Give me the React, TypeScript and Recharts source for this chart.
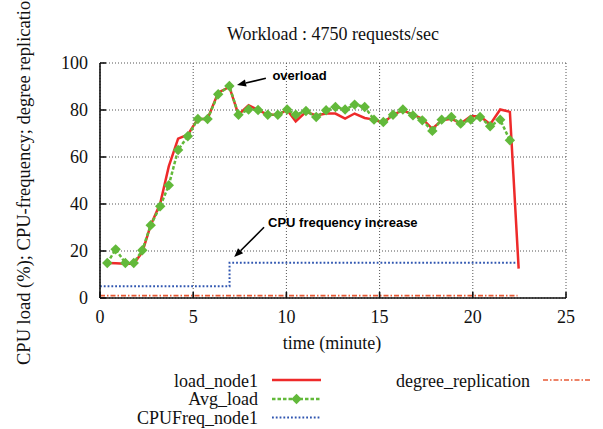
import React from 'react';
import { LineChart, Line, XAxis, YAxis, CartesianGrid, ReferenceLine, Customized } from 'recharts';

// ---- data ----
const TIME_MIN = [0.39, 0.84, 1.36, 1.81, 2.27, 2.72, 3.23, 3.69, 4.19, 4.71, 5.25, 5.77, 6.34, 6.94, 7.43, 7.97, 8.48, 9.0, 9.54, 10.04, 10.5, 11.05, 11.6, 12.13, 12.63, 13.15, 13.66, 14.2, 14.7, 15.2, 15.72, 16.25, 16.79, 17.29, 17.83, 18.33, 18.85, 19.35, 19.89, 20.39, 20.93, 21.47, 21.99, 22.46];
const LOAD_NODE1 = [14.9, 14.8, 14.6, 14.6, 19.5, 31, 40.2, 56, 67.8, 69.5, 76.2, 76.2, 87.4, 89.8, 78, 82, 80, 78, 78, 80, 75.2, 79.2, 77.7, 78.5, 78.5, 76.3, 78.5, 76.6, 75.9, 74.5, 78, 79.8, 78, 76.3, 72, 75.6, 76.3, 74.2, 77.3, 77.3, 73.9, 80.2, 79.2, 12.5];
const AVG_LOAD = [14.9, 20.7, 14.9, 14.9, 20.3, 31, 39, 48, 63, 68.8, 76.2, 76.2, 86.7, 90.2, 78, 80.2, 80, 78, 78, 80.2, 78, 79.6, 77, 79.9, 81.3, 80.2, 82.3, 81.3, 75.9, 74.9, 78, 80.2, 77.7, 75.6, 71.1, 75.9, 77, 74.2, 75.9, 77, 73.1, 75.9, 67.1];
const CPU_TIMES = [0, 6.95, 22.4];
const CPU_FREQ = [5, 15, 15];
const REPL_TIMES = [0, 22.4];
const REPL_DEGREE = [1, 1];
const X_TICKS = [0, 5, 10, 15, 20, 25];
const Y_TICKS = [0, 20, 40, 60, 80, 100];
const SERIES_NAMES = ['load_node1', 'Avg_load', 'CPUFreq_node1', 'degree_replication'];
const TITLE = 'Workload : 4750 requests/sec';
const X_LABEL = 'time (minute)';
const Y_LABEL = 'CPU load (%); CPU-frequency; degree replication';
const ANNOTATIONS = [
  { text: 'overload', from: { x: 8.9, y: 93.5 }, to: { x: 7.35, y: 90.6 }, dx: 6.5, dy: 1.5 },
  { text: 'CPU frequency increase', from: { x: 8.8, y: 30.1 }, to: { x: 7.2, y: 17.4 }, dx: 4, dy: -0.5 },
];

const loadData = TIME_MIN.map((t, i) => ({ x: t, v: LOAD_NODE1[i] }));
const avgData = AVG_LOAD.map((v, i) => ({ x: TIME_MIN[i], v }));
const cpuData = CPU_TIMES.map((t, i) => ({ x: t, v: CPU_FREQ[i] }));
const replData = REPL_TIMES.map((t, i) => ({ x: t, v: REPL_DEGREE[i] }));

const RED = '#ee2a2a';
const GREEN = '#62b93a';
const BLUE = '#2f55b0';
const ORANGE = '#e85a35';
const SERIF = '"Liberation Serif", "Times New Roman", serif';
const SANS = '"Liberation Sans", Arial, sans-serif';

const Diamond = (props: any) => {
  const { cx, cy } = props;
  if (cx == null || cy == null) return null;
  const s = 5.2;
  return <polygon points={`${cx},${cy - s} ${cx + s},${cy} ${cx},${cy + s} ${cx - s},${cy}`} fill={GREEN} stroke="none" />;
};

const arrowShape = (a: typeof ANNOTATIONS[number]) => (props: any) => {
  const { x1, y1, x2, y2 } = props;
  const ang = Math.atan2(y2 - y1, x2 - x1);
  const L = 9, W = 3.6;
  const bx = x2 - L * Math.cos(ang), by = y2 - L * Math.sin(ang);
  const px = -Math.sin(ang) * W, py = Math.cos(ang) * W;
  return (
    <g>
      <line x1={x1} y1={y1} x2={bx} y2={by} stroke="#000" strokeWidth={1.6} />
      <polygon points={`${x2},${y2} ${bx + px},${by + py} ${bx - px},${by - py}`} fill="#000" />
      <text x={x1 + a.dx} y={y1 + a.dy} fontFamily={SANS} fontWeight="bold" fontSize={13} fill="#000">{a.text}</text>
    </g>
  );
};

const Texts = () => (
  <g>
    <text x={333} y={40} textAnchor="middle" fontFamily={SERIF} fontSize={18} fill="#111">{TITLE}</text>
    <text x={332} y={349} textAnchor="middle" fontFamily={SERIF} fontSize={18} fill="#111">{X_LABEL}</text>
    <text transform="translate(29.5,365) rotate(-90)" textAnchor="start" fontFamily={SERIF} fontSize={18.5} fill="#111">{Y_LABEL}</text>
  </g>
);

const LegendBlock = () => {
  const rows = [
    { name: SERIES_NAMES[0], tx: 258, ty: 386.5, sx: 272, sy: 380 },
    { name: SERIES_NAMES[1], tx: 258, ty: 405, sx: 272, sy: 399 },
    { name: SERIES_NAMES[2], tx: 258, ty: 423.5, sx: 272, sy: 417.5 },
    { name: SERIES_NAMES[3], tx: 530, ty: 386.5, sx: 543, sy: 380 },
  ];
  const len = 49;
  return (
    <g>
      {rows.map((r, i) => (
        <g key={r.name}>
          <text x={r.tx} y={r.ty} textAnchor="end" fontFamily={SERIF} fontSize={18} fill="#111">{r.name}</text>
          {i === 0 && <line x1={r.sx} y1={r.sy} x2={r.sx + len} y2={r.sy} stroke={RED} strokeWidth={2.5} />}
          {i === 1 && (
            <g>
              <line x1={r.sx} y1={r.sy} x2={r.sx + len} y2={r.sy} stroke={GREEN} strokeWidth={2.5} strokeDasharray="3.5 2" />
              <Diamond cx={r.sx + len / 2} cy={r.sy} />
            </g>
          )}
          {i === 2 && <line x1={r.sx} y1={r.sy} x2={r.sx + len} y2={r.sy} stroke={BLUE} strokeWidth={2} strokeDasharray="1.8 2" />}
          {i === 3 && <line x1={r.sx} y1={r.sy} x2={r.sx + len} y2={r.sy} stroke={ORANGE} strokeWidth={1.6} strokeDasharray="5 2 1.5 2" />}
        </g>
      ))}
    </g>
  );
};

export default function App() {
  return (
    <div style={{ position: 'absolute', left: 0, top: 0, background: '#fff' }}>
      <LineChart width={603} height={429} margin={{ top: 63, right: 37, bottom: 101, left: 40 }}>
        <CartesianGrid stroke="#555" strokeDasharray="1 2" strokeWidth={1} />
        <XAxis
          dataKey="x"
          type="number"
          domain={[0, 25]}
          ticks={X_TICKS}
          allowDataOverflow
          height={30}
          stroke="#111"
          strokeWidth={1.6}
          tickSize={-6}
          tickMargin={18.5}
          tick={{ fontFamily: SERIF, fontSize: 18, fill: '#111' }}
        />
        <XAxis
          xAxisId="top"
          orientation="top"
          dataKey="x"
          type="number"
          domain={[0, 25]}
          ticks={X_TICKS}
          allowDataOverflow
          height={0}
          stroke="#111"
          strokeWidth={1.6}
          tickSize={-6}
          tick={false}
        />
        <YAxis
          type="number"
          domain={[0, 100]}
          ticks={Y_TICKS}
          allowDataOverflow
          width={60}
          stroke="#111"
          strokeWidth={1.6}
          tickSize={-6}
          tickMargin={18}
          tick={{ fontFamily: SERIF, fontSize: 18, fill: '#111' }}
        />
        <YAxis
          yAxisId="right"
          orientation="right"
          type="number"
          domain={[0, 100]}
          ticks={Y_TICKS}
          allowDataOverflow
          width={0}
          stroke="#111"
          strokeWidth={1.6}
          tickSize={-6}
          tick={false}
        />
        <Line data={replData} dataKey="v" name={SERIES_NAMES[3]} stroke={ORANGE} strokeWidth={1.6} strokeDasharray="5 2 1.5 2" dot={false} isAnimationActive={false} type="linear" />
        <Line data={cpuData} dataKey="v" name={SERIES_NAMES[2]} stroke={BLUE} strokeWidth={2} strokeDasharray="1.8 2" dot={false} isAnimationActive={false} type="stepAfter" />
        <Line data={loadData} dataKey="v" name={SERIES_NAMES[0]} stroke={RED} strokeWidth={2.5} dot={false} isAnimationActive={false} type="linear" />
        <Line data={avgData} dataKey="v" name={SERIES_NAMES[1]} stroke={GREEN} strokeWidth={2.5} strokeDasharray="3.5 2" dot={<Diamond />} isAnimationActive={false} type="linear" />
        {ANNOTATIONS.map((a) => (
          <ReferenceLine key={a.text} segment={[a.from, a.to]} shape={arrowShape(a)} ifOverflow="visible" />
        ))}
        <Customized component={<Texts />} />
        <Customized component={<LegendBlock />} />
      </LineChart>
    </div>
  );
}
